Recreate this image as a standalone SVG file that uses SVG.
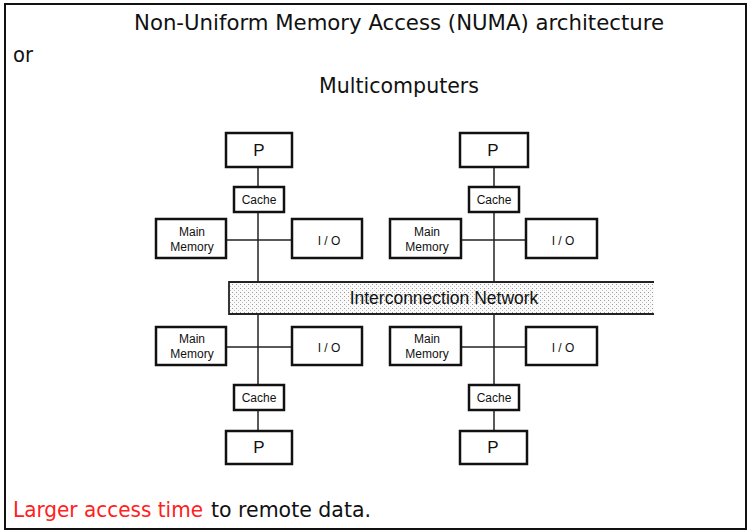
<svg xmlns="http://www.w3.org/2000/svg" width="752" height="532" viewBox="0 0 752 532">
<style>
.box{fill:#fff;stroke:#111;stroke-width:2.5}
.ln{stroke:#222;stroke-width:1.5;fill:none}
.lbl{font-family:"Liberation Sans",Arial,sans-serif;fill:#111;text-anchor:middle}
.big{font-size:17px}
.net{font-size:17.5px}
.sm{font-size:12px}
.hd{font-family:"DejaVu Sans Condensed","Liberation Sans Narrow","Liberation Sans",sans-serif;font-size:21px;fill:#111}
</style>
<defs>
<pattern id="dots" width="4" height="4" patternUnits="userSpaceOnUse">
<rect width="4" height="4" fill="#fafafa"/>
<rect x="0" y="0" width="1" height="1" fill="#999"/>
<rect x="2" y="2" width="1" height="1" fill="#bbb"/>
</pattern>
</defs>
<rect x="0" y="0" width="752" height="532" fill="#fff"/>
<rect x="5" y="4" width="741" height="525" fill="none" stroke="#111" stroke-width="2"/>
<text class="hd" x="134" y="30" textLength="530" lengthAdjust="spacingAndGlyphs">Non-Uniform Memory Access (NUMA) architecture</text>
<text class="hd" x="13" y="62" textLength="20" lengthAdjust="spacingAndGlyphs">or</text>
<text class="hd" x="319" y="93" textLength="160" lengthAdjust="spacingAndGlyphs">Multicomputers</text>
<text class="hd" x="13" y="517"><tspan fill="#ff2020" textLength="190" lengthAdjust="spacingAndGlyphs">Larger access time</tspan><tspan x="211" textLength="160" lengthAdjust="spacingAndGlyphs">to remote data.</tspan></text>
<g id="connectors">
<line class="ln" x1="258" y1="166" x2="258" y2="282"/>
<line class="ln" x1="226" y1="240" x2="292" y2="240"/>
<line class="ln" x1="494" y1="166" x2="494" y2="282"/>
<line class="ln" x1="461" y1="240" x2="526" y2="240"/>
<line class="ln" x1="258" y1="314" x2="258" y2="430"/>
<line class="ln" x1="226" y1="347" x2="292" y2="347"/>
<line class="ln" x1="494" y1="314" x2="494" y2="430"/>
<line class="ln" x1="461" y1="347" x2="526" y2="347"/>
</g>
<g id="network">
<rect x="229" y="282" width="425" height="32" fill="url(#dots)"/>
<path d="M654 282 H229 V314 H654" fill="none" stroke="#222" stroke-width="1.8"/>
<text class="lbl net" x="444" y="304">Interconnection Network</text>
</g>
<g id="p1"><rect class="box" x="226" y="133" width="66" height="34"/><text class="lbl big" x="259" y="156">P</text></g>
<g id="cache1"><rect class="box" x="234" y="187" width="50" height="25"/><text class="lbl sm" x="259" y="204">Cache</text></g>
<g id="mem1"><rect class="box" x="156" y="219" width="70" height="39"/><text class="lbl sm" x="192" y="236">Main</text><text class="lbl sm" x="192" y="251">Memory</text></g>
<g id="io1"><rect class="box" x="292" y="219" width="70" height="39"/><text class="lbl sm" x="329" y="245">I / O</text></g>
<g id="p2"><rect class="box" x="460" y="133" width="68" height="34"/><text class="lbl big" x="493" y="156">P</text></g>
<g id="cache2"><rect class="box" x="469" y="187" width="50" height="25"/><text class="lbl sm" x="494" y="204">Cache</text></g>
<g id="mem2"><rect class="box" x="390" y="219" width="71" height="39"/><text class="lbl sm" x="427" y="236">Main</text><text class="lbl sm" x="427" y="251">Memory</text></g>
<g id="io2"><rect class="box" x="526" y="219" width="71" height="39"/><text class="lbl sm" x="563" y="245">I / O</text></g>
<g id="mem3"><rect class="box" x="156" y="327" width="70" height="38"/><text class="lbl sm" x="192" y="343">Main</text><text class="lbl sm" x="192" y="358">Memory</text></g>
<g id="io3"><rect class="box" x="292" y="327" width="70" height="38"/><text class="lbl sm" x="329" y="352">I / O</text></g>
<g id="cache3"><rect class="box" x="234" y="385" width="50" height="25"/><text class="lbl sm" x="259" y="402">Cache</text></g>
<g id="p3"><rect class="box" x="226" y="431" width="66" height="33"/><text class="lbl big" x="259" y="453">P</text></g>
<g id="mem4"><rect class="box" x="390" y="327" width="71" height="38"/><text class="lbl sm" x="427" y="343">Main</text><text class="lbl sm" x="427" y="358">Memory</text></g>
<g id="io4"><rect class="box" x="526" y="327" width="71" height="38"/><text class="lbl sm" x="563" y="352">I / O</text></g>
<g id="cache4"><rect class="box" x="469" y="385" width="50" height="25"/><text class="lbl sm" x="494" y="402">Cache</text></g>
<g id="p4"><rect class="box" x="460" y="431" width="67" height="33"/><text class="lbl big" x="493" y="453">P</text></g>
</svg>
